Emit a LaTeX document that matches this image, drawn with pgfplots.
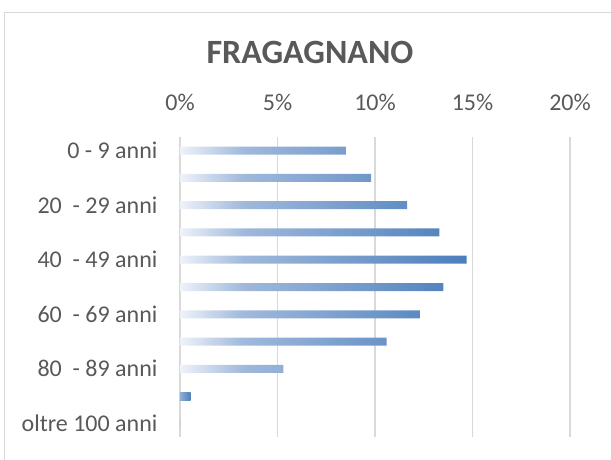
\documentclass[border=0pt]{standalone}
\usepackage{fontspec}
\setmainfont{Carlito}
\usepackage{pgfplots}
\pgfplotsset{compat=1.18}
\definecolor{txt}{HTML}{595959}
\definecolor{gridc}{HTML}{D9D9D9}
\definecolor{barblue}{HTML}{4A7EBB}
\definecolor{barlight}{HTML}{A0B9DC}
\definecolor{barstart}{HTML}{EEF2F9}
\pgfdeclarehorizontalshading{barshade}{100bp}{color(0bp)=(barstart); color(25bp)=(barstart); color(36bp)=(barlight); color(75bp)=(barblue); color(100bp)=(barblue)}

\begin{document}
\begin{tikzpicture}[x=1pt,y=1pt]
\useasboundingbox (0,0) rectangle (611,459);
\draw[gridc, line width=1pt] (4,-10) rectangle (620,446);
\node[font=\fontsize{34}{38}\selectfont\bfseries, text=txt] at (310,407) {FRAGAGNANO};
\begin{axis}[
    at={(180pt,22pt)}, anchor=south west,
    width=390pt, height=300pt, scale only axis,
    xmin=0, xmax=20, ymin=-0.5, ymax=10.5, y dir=reverse,
    axis line style={draw=none},
    xtick={0,5,10,15,20},
    xticklabel pos=right,
    xticklabel={\pgfmathprintnumber{\tick}\%},
    xticklabel style={anchor=center, yshift=35pt},
    ytick={0,1,2,3,4,5,6,7,8,9,10},
    yticklabels={0 - 9 anni,,20\ \ - 29 anni,,40\ \ - 49 anni,,60\ \ - 69 anni,,80\ \ - 89 anni,,oltre 100 anni},
    yticklabel style={anchor=east, xshift=-19pt},
    major tick length=0pt,
    tick label style={font=\fontsize{24}{28}\selectfont, text=txt},
    /pgf/number format/assume math mode=true,
    xmajorgrids,
    major grid style={gridc, line width=1.5pt},
]
\addplot[xbar, bar width=8pt, bar shift=0pt, draw=none, shade, shading=barshade] coordinates {
    (8.5,0) (9.8,1) (11.65,2) (13.3,3) (14.7,4) (13.5,5)
    (12.3,6) (10.6,7) (5.3,8)
};
\addplot[xbar, bar width=8pt, bar shift=0pt, draw=none, left color=barlight!80!barblue, right color=barblue] coordinates {(0.55,9)};
\addplot[xbar, bar width=8pt, bar shift=0pt, draw=none, fill=barblue] coordinates {(0,10)};
\end{axis}
\end{tikzpicture}
\end{document}
